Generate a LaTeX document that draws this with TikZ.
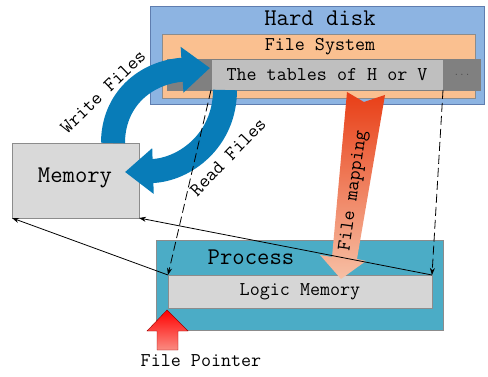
\documentclass[tikz,border=0pt]{standalone}
\usepackage{fontspec}
\usetikzlibrary{arrows.meta,positioning,calc}
\definecolor{diskblue}{RGB}{141,180,226}
\definecolor{diskedge}{RGB}{95,125,175}
\definecolor{fsorange}{RGB}{250,192,144}
\definecolor{stripgray}{RGB}{128,128,128}
\definecolor{tablegray}{RGB}{191,191,191}
\definecolor{memgray}{RGB}{217,217,217}
\definecolor{procteal}{RGB}{75,172,198}
\definecolor{logicgray}{RGB}{214,214,214}
\definecolor{cycleblue}{RGB}{8,124,184}
\definecolor{mapdark}{RGB}{232,62,22}
\definecolor{maplight}{RGB}{247,192,165}
\definecolor{ptrlight}{RGB}{250,140,130}

\begin{document}
\begin{tikzpicture}[x=1pt,y=-1pt,
    box/.style={draw=#1,line width=0.6pt,inner sep=0pt,outer sep=0pt,
                anchor=north west},
    big/.style={font=\ttfamily\fontsize{24}{24}\selectfont},
    small/.style={font=\ttfamily\fontsize{19.5}{19.5}\selectfont},
    link/.style={-{Stealth[length=7pt,width=5pt]},line width=0.8pt},
    dlink/.style={link,dash pattern=on 9pt off 4pt},
    flow/.style={line width=24pt,cycleblue,
                 -{Triangle[length=28pt,width=44pt]}}]
    \useasboundingbox (0,0) rectangle (488,377);

    % Hard disk with its file system
    \node[box=diskedge,fill=diskblue,minimum width=334pt,minimum height=98pt]
      (disk) at (150,6) {};
    \node[big] (disklabel) at (320,18) {Hard disk};
    \node[box=black!45,fill=fsorange,minimum width=313pt,minimum height=64pt]
      (fs) at (162,34) {};
    \node[small] (fslabel) at (320,47) {File System};
    \node[box=black!50,fill=stripgray,minimum width=313pt,minimum height=31pt]
      (strip) at (167,59) {};
    \node[box=black!50,fill=tablegray,minimum width=232pt,minimum height=31pt,
          small] (tables) at (211,59) {};
    \node[small] at (tables.center) {The tables of H or V};
    \node[font=\ttfamily\fontsize{11}{11}\selectfont,black!70] (more)
      at (462,75) {...};

    % Memory
    \node[box=black!45,fill=memgray,minimum width=127pt,minimum height=75pt]
      (mem) at (12,143) {};
    \node[big] (memlabel) at (75,178) {Memory};

    % Process with its logic memory
    \node[box=black!45,fill=procteal,minimum width=287pt,minimum height=90pt]
      (proc) at (156,240) {};
    \node[big] (proclabel) at (251,257) {Process};
    \node[box=black!45,fill=logicgray,minimum width=264pt,minimum height=33pt]
      (logic) at (168,275) {};
    \node[small] at (logic.center) {Logic Memory};

    % File mapping arrow
    \shade[top color=mapdark,bottom color=maplight]
      (347,92) -- (364,102) -- (385,95) -- (357,259) -- (366,261)
      -- (341,279) -- (320,255) -- (332,257) -- cycle;
    \node[small,rotate=82] (maplabel) at (354,191) {File mapping};

    % read / write cycle
    \coordinate (wstart) at (113,143);
    \coordinate (wend) at (210,68);
    \coordinate (rstart) at (225,90);
    \coordinate (rend) at (125,172);
    \draw[flow] (wstart) .. controls (113,100) and (145,72) .. (wend);
    \draw[flow] (rstart) .. controls (225,140) and (185,170) .. (rend);
    \node[small,rotate=44] (wlabel) at (103,92) {Write Files};
    \node[small,rotate=46] (rlabel) at (228,157) {Read Files};

    % connectors
    \draw[dlink] (tables.south west) -- (logic.north west);
    \draw[dlink] (tables.south east) -- (logic.north east);
    \draw[link] (logic.north west) -- (mem.south west);
    \draw[link] (logic.north east) -- (mem.south east);

    % File pointer
    \shade[top color=red,bottom color=ptrlight,draw=red!60!black,line width=0.4pt]
      (167,310) -- (188,331) -- (178,331) -- (178,350) -- (157,350)
      -- (157,331) -- (147,331) -- cycle;
    \node[small] (ptrlabel) at (201,361) {File Pointer};
\end{tikzpicture}
\end{document}
